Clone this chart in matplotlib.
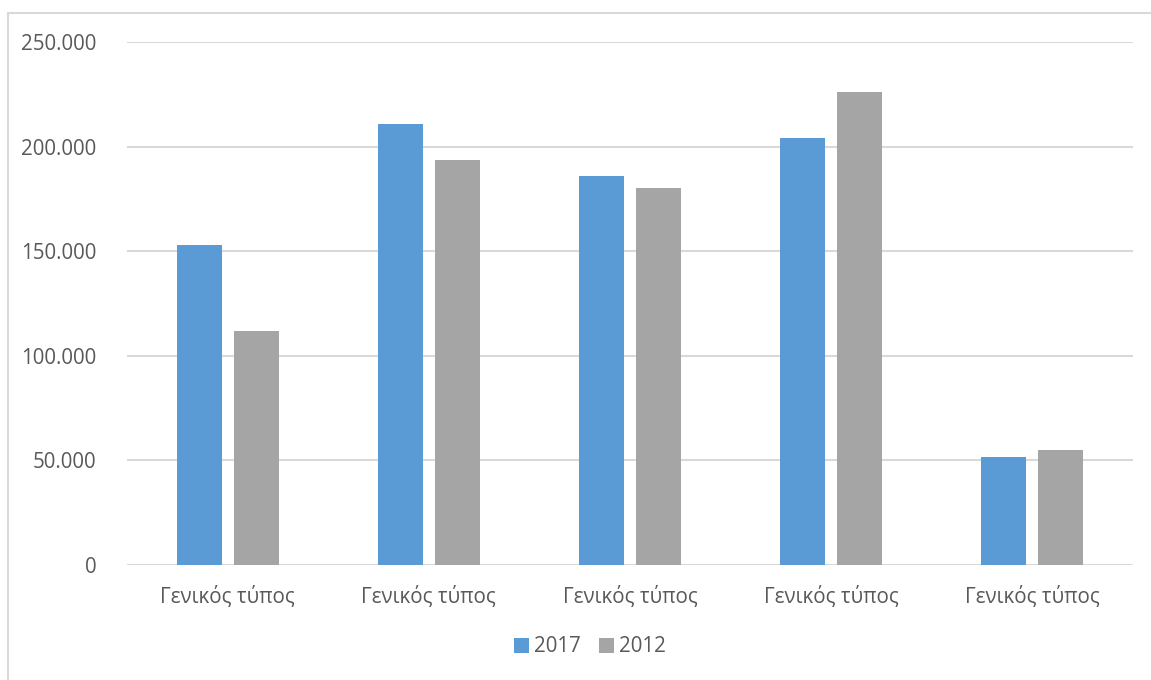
import matplotlib
matplotlib.use("Agg")
import matplotlib.pyplot as plt
from matplotlib.patches import Rectangle, Patch
from matplotlib.ticker import FuncFormatter
import numpy as np

categories = ["Γενικός τύπος"] * 5
series_names = ["2017", "2012"]
values_2017 = [153000, 211000, 186000, 204000, 51700]
values_2012 = [111800, 193700, 180500, 226400, 55200]
y_ticks = [0, 50000, 100000, 150000, 200000, 250000]

colors = ["#5B9BD5", "#A5A5A5"]
text_color = "#595959"
grid_color = "#D9D9D9"

plt.rcParams["font.family"] = ["Open Sans", "DejaVu Sans"]

fig = plt.figure(figsize=(11.51, 6.80), dpi=100)
W, H = 1151, 680

# outer chart frame
fig.patches.append(Rectangle((8 / W, -0.01), 1.0, 1 - 13 / H + 0.01,
                             transform=fig.transFigure, fill=False,
                             edgecolor=grid_color, linewidth=1.5))

ax = fig.add_axes([127 / W, 1 - 565 / H, (1133 - 127) / W, (565 - 42.3) / H])

x = np.arange(len(categories))
bw = 0.224
off = 0.1417
ax.bar(x - off, values_2017, width=bw, color=colors[0], zorder=3)
ax.bar(x + off, values_2012, width=bw, color=colors[1], zorder=3)

ax.set_xlim(-0.5, len(categories) - 0.5)
ax.set_ylim(0, 250000)
ax.set_yticks(y_ticks)
ax.yaxis.set_major_formatter(FuncFormatter(lambda v, p: f"{int(v):,}".replace(",", ".")))
ax.set_xticks(x)
ax.set_xticklabels(categories)

ax.grid(axis="y", color=grid_color, linewidth=1.5, zorder=0)
for s in ax.spines.values():
    s.set_visible(False)
ax.tick_params(axis="both", length=0, labelsize=14.8, labelcolor=text_color)
ax.tick_params(axis="y", pad=22)
ax.tick_params(axis="x", pad=15)

handles = [Patch(facecolor=c, edgecolor="none") for c in colors]
fig.legend(handles, series_names, loc="center", bbox_to_anchor=(590 / W, 1 - 647 / H),
           ncol=2, frameon=False, fontsize=14.8, labelcolor=text_color,
           handlelength=0.7, handleheight=0.7, handletextpad=0.25, columnspacing=0.9)

fig.savefig("out.png", dpi=100, facecolor="white")
